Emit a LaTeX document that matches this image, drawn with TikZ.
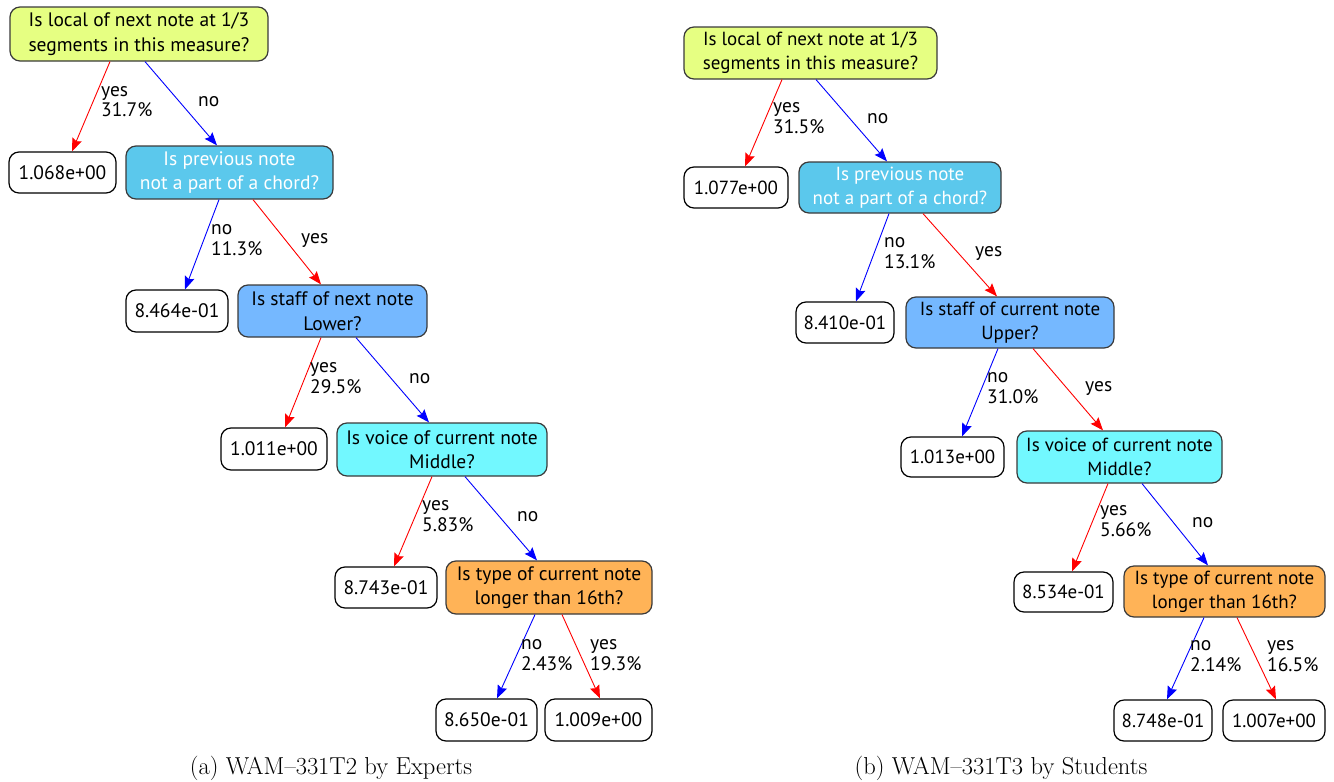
\documentclass[tikz,border=0pt]{standalone}
\usepackage{fontspec}
\usetikzlibrary{arrows.meta}
\newfontfamily\treefont{PT Sans}

\definecolor{cLocal}{HTML}{E6FF82}
\definecolor{cChord}{HTML}{5BC8EC}
\definecolor{cStaff}{HTML}{75B8FF}
\definecolor{cVoice}{HTML}{72F8FF}
\definecolor{cType}{HTML}{FFB357}
\definecolor{cBorder}{HTML}{3A3A3A}
\definecolor{cYes}{HTML}{FF0000}
\definecolor{cNo}{HTML}{0000FF}

\tikzset{
  qbox/.style={draw=cBorder, line width=1.2pt, rounded corners=10pt,
    align=center, inner sep=0pt, font=\treefont\fontsize{19.5}{24.5}\selectfont},
  leafbox/.style={draw=black, line width=1.2pt, rounded corners=10pt, fill=white,
    align=center, inner sep=0pt, font=\treefont\fontsize{19.5}{24.5}\selectfont},
  qboxB/.style={qbox, font=\treefont\fontsize{19}{24}\selectfont},
  leafboxB/.style={leafbox, font=\treefont\fontsize{19}{24}\selectfont},
  edgeyes/.style={draw=cYes, line width=0.9pt, -{Stealth[length=13pt,width=10pt,inset=2pt]}},
  edgeno/.style={draw=cNo, line width=0.9pt, -{Stealth[length=13pt,width=10pt,inset=2pt]}},
  elabel/.style={anchor=west, align=left, inner sep=0pt,
    font=\treefont\fontsize{19.5}{20.5}\selectfont},
  caption/.style={font=\fontsize{24.5}{29}\selectfont, inner sep=0pt}
}

\begin{document}
\begin{tikzpicture}[x=1pt, y=-1pt]
\useasboundingbox (0,0) rectangle (1334,782);

% ---------------- left tree ----------------
\node[qbox, fill=cLocal, minimum width=258pt, minimum height=54pt] (r1) at (139,34)
  {Is local of next note at 1/3\\segments in this measure?};
\node[leafbox, minimum width=107pt, minimum height=41pt] (a1) at (62.5,172.5) {1.068e+00};
\node[qbox, fill=cChord, text=white, minimum width=207pt, minimum height=53pt] (c1) at (229.5,172.5)
  {Is previous note\\not a part of a chord?};
\node[leafbox, minimum width=102pt, minimum height=42pt] (b1) at (177,311) {8.464e-01};
\node[qbox, fill=cStaff, minimum width=189pt, minimum height=52pt] (s1) at (332.5,311)
  {Is staff of next note\\Lower?};
\node[leafbox, minimum width=106pt, minimum height=42pt] (d1) at (274,449) {1.011e+00};
\node[qbox, fill=cVoice, minimum width=210pt, minimum height=53pt] (v1) at (442,449.5)
  {Is voice of current note\\Middle?};
\node[leafbox, minimum width=102pt, minimum height=41pt] (e1) at (386,587.5) {8.743e-01};
\node[qbox, fill=cType, minimum width=206pt, minimum height=53pt] (t1) at (549,587.5)
  {Is type of current note\\longer than 16th?};
\node[leafbox, minimum width=101pt, minimum height=42pt] (f1) at (486.5,720) {8.650e-01};
\node[leafbox, minimum width=107pt, minimum height=42pt] (g1) at (598.5,720) {1.009e+00};

\draw[edgeyes] ([xshift=-29pt]r1.south) -- ([xshift=9.5pt]a1.north);
\draw[edgeno]  ([xshift=6pt]r1.south) -- ([xshift=-12.5pt]c1.north);
\draw[edgeno]  ([xshift=-10.5pt]c1.south) -- ([xshift=8pt]b1.north);
\draw[edgeyes] ([xshift=23.5pt]c1.south) -- ([xshift=-11.5pt]s1.north);
\draw[edgeyes] ([xshift=-11.5pt]s1.south) -- ([xshift=11pt]d1.north);
\draw[edgeno]  ([xshift=23.5pt]s1.south) -- ([xshift=-13pt]v1.north);
\draw[edgeyes] ([xshift=-10pt]v1.south) -- ([xshift=8pt]e1.north);
\draw[edgeno]  ([xshift=23pt]v1.south) -- ([xshift=-12pt]t1.north);
\draw[edgeno]  ([xshift=-14pt]t1.south) -- ([xshift=10.5pt]f1.north);
\draw[edgeyes] ([xshift=13pt]t1.south) -- ([xshift=1.5pt]g1.north);

\node[elabel] (l1a) at (101,101.5) {yes\\31.7\%};
\node[elabel] (l1b) at (198,102) {no};
\node[elabel] (l1c) at (211,240) {no\\11.3\%};
\node[elabel] (l1d) at (301,241) {yes};
\node[elabel] (l1e) at (310,378) {yes\\29.5\%};
\node[elabel] (l1f) at (409,379) {no};
\node[elabel] (l1g) at (422,516) {yes\\5.83\%};
\node[elabel] (l1h) at (517,517) {no};
\node[elabel] (l1i) at (521,655) {no\\2.43\%};
\node[elabel] (l1j) at (590,655) {yes\\19.3\%};

% ---------------- right tree ----------------
\node[qboxB, fill=cLocal, minimum width=253pt, minimum height=52pt] (r2) at (810.5,53)
  {Is local of next note at 1/3\\segments in this measure?};
\node[leafboxB, minimum width=104pt, minimum height=41pt] (a2) at (736,187.5) {1.077e+00};
\node[qboxB, fill=cChord, text=white, minimum width=202pt, minimum height=51pt] (c2) at (900,187.5)
  {Is previous note\\not a part of a chord?};
\node[leafboxB, minimum width=98pt, minimum height=41pt] (b2) at (845,322.5) {8.410e-01};
\node[qboxB, fill=cStaff, minimum width=208pt, minimum height=51pt] (s2) at (1010,322.5)
  {Is staff of current note\\Upper?};
\node[leafboxB, minimum width=103pt, minimum height=40pt] (d2) at (952.5,457) {1.013e+00};
\node[qboxB, fill=cVoice, minimum width=205pt, minimum height=52pt] (v2) at (1119.5,457)
  {Is voice of current note\\Middle?};
\node[leafboxB, minimum width=99pt, minimum height=40pt] (e2) at (1063.5,592) {8.534e-01};
\node[qboxB, fill=cType, minimum width=201pt, minimum height=51pt] (t2) at (1224.5,591.5)
  {Is type of current note\\longer than 16th?};
\node[leafboxB, minimum width=98pt, minimum height=41pt] (f2) at (1163,720.5) {8.748e-01};
\node[leafboxB, minimum width=102pt, minimum height=41pt] (g2) at (1274,720.5) {1.007e+00};

\draw[edgeyes] ([xshift=-28.5pt]r2.south) -- ([xshift=9pt]a2.north);
\draw[edgeno]  ([xshift=5.5pt]r2.south) -- ([xshift=-13pt]c2.north);
\draw[edgeno]  ([xshift=-11pt]c2.south) -- ([xshift=11pt]b2.north);
\draw[edgeyes] ([xshift=23pt]c2.south) -- ([xshift=-13pt]s2.north);
\draw[edgeno]  ([xshift=-12pt]s2.south) -- ([xshift=9.5pt]d2.north);
\draw[edgeyes] ([xshift=23pt]s2.south) -- ([xshift=-16.5pt]v2.north);
\draw[edgeyes] ([xshift=-11.5pt]v2.south) -- ([xshift=8.5pt]e2.north);
\draw[edgeno]  ([xshift=22.5pt]v2.south) -- ([xshift=-16.5pt]t2.north);
\draw[edgeno]  ([xshift=-20.5pt]t2.south) -- ([xshift=4pt]f2.north);
\draw[edgeyes] ([xshift=12.5pt]t2.south) -- ([xshift=2pt]g2.north);

\node[elabel] (l2a) at (773,118) {yes\\31.5\%};
\node[elabel] (l2b) at (867,119) {no};
\node[elabel] (l2c) at (884,253) {no\\13.1\%};
\node[elabel] (l2d) at (975,254) {yes};
\node[elabel] (l2e) at (987,388) {no\\31.0\%};
\node[elabel] (l2f) at (1085,389) {yes};
\node[elabel] (l2g) at (1100,521) {yes\\5.66\%};
\node[elabel] (l2h) at (1192,523) {no};
\node[elabel] (l2i) at (1190,656) {no\\2.14\%};
\node[elabel] (l2j) at (1267,656) {yes\\16.5\%};

% ---------------- captions ----------------
\node[caption] (capA) at (331,768) {(a) WAM--331T2 by Experts};
\node[caption] (capB) at (1001,768) {(b) WAM--331T3 by Students};
\end{tikzpicture}
\end{document}
